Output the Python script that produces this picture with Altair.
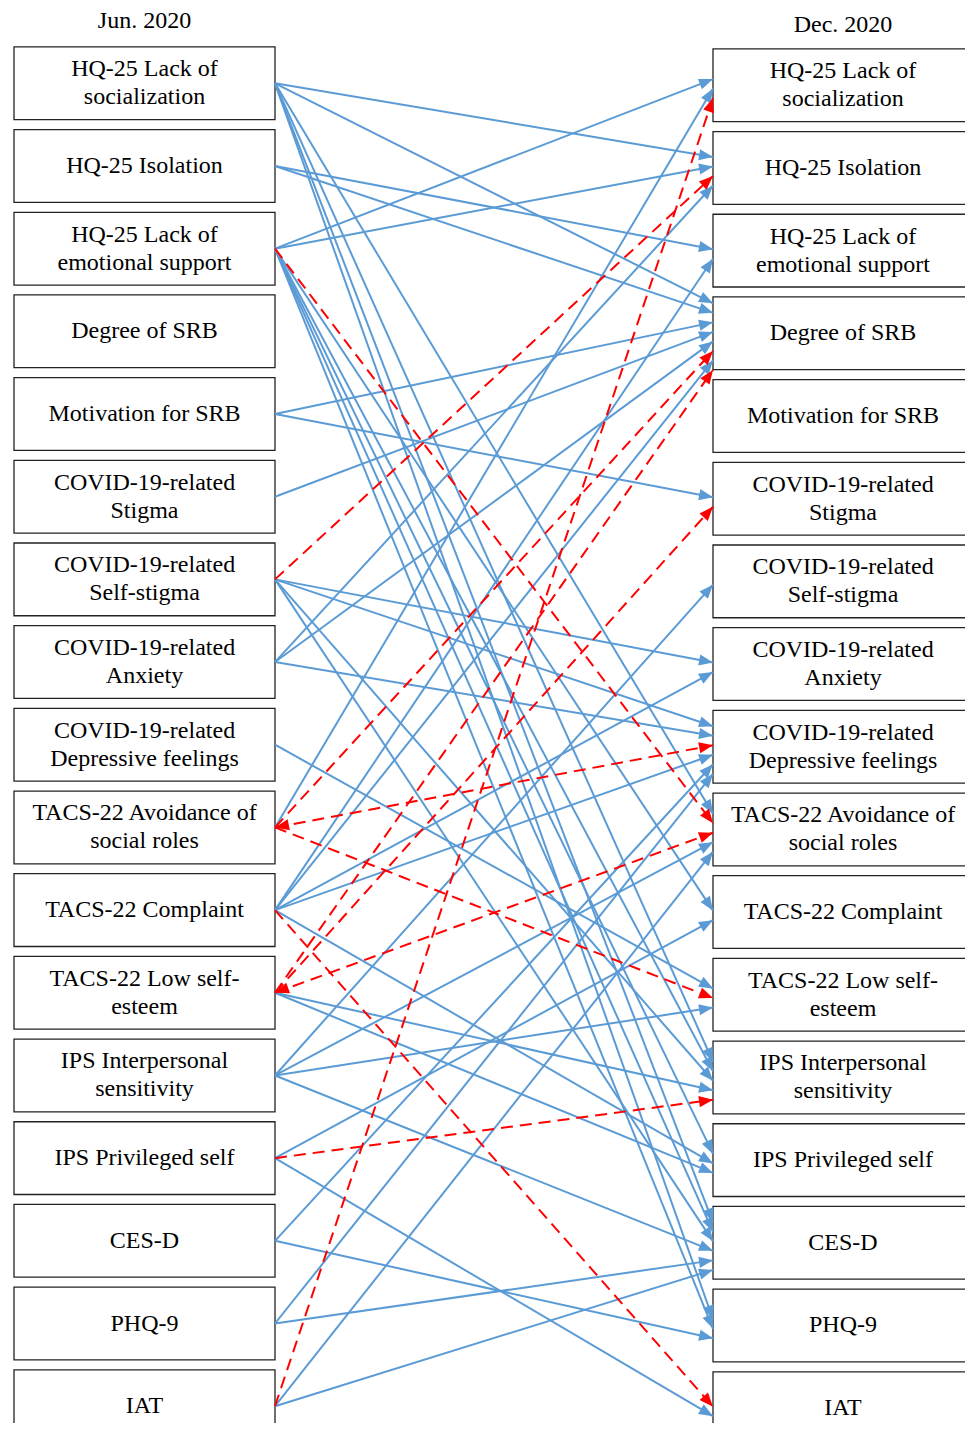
import math
import altair as alt
import pandas as pd

# ---------------- data ----------------
column_titles = ["Jun. 2020", "Dec. 2020"]

variables = [
    "HQ-25 Lack of\nsocialization",
    "HQ-25 Isolation",
    "HQ-25 Lack of\nemotional support",
    "Degree of SRB",
    "Motivation for SRB",
    "COVID-19-related\nStigma",
    "COVID-19-related\nSelf-stigma",
    "COVID-19-related\nAnxiety",
    "COVID-19-related\nDepressive feelings",
    "TACS-22 Avoidance of\nsocial roles",
    "TACS-22 Complaint",
    "TACS-22 Low self-\nesteem",
    "IPS Interpersonal\nsensitivity",
    "IPS Privileged self",
    "CES-D",
    "PHQ-9",
    "IAT",
]

# positive paths (Jun. 2020 index -> Dec. 2020 index)
blue_from = [0, 0, 0, 0, 0, 0,
             1, 1,
             2, 2, 2, 2, 2, 2, 2,
             4, 4,
             5,
             6, 6, 6, 6,
             7, 7, 7,
             8,
             9,
             10, 10, 10, 10, 10,
             11, 11,
             12, 12, 12, 12,
             13, 13,
             14, 14,
             15, 15,
             16, 16]
blue_to = [1, 3, 9, 12, 14, 15,
           2, 3,
           0, 1, 10, 12, 13, 14, 15,
           3, 5,
           3,
           7, 8, 12, 14,
           1, 3, 8,
           11,
           0,
           2, 3, 7, 8, 13,
           12, 13,
           6, 9, 11, 14,
           10, 16,
           8, 15,
           8, 14,
           9, 14]

# negative paths
red_from = [2, 6, 9, 9, 9, 10, 11, 11, 11, 13, 16]
red_to = [9, 1, 3, 8, 11, 16, 3, 5, 9, 12, 0]
# negative paths drawn with a head at both ends
red_two_headed = [(9, 8), (11, 9)]

# ---------------- layout ----------------
W, H = 957, 1415
ROW0, ROW = 75.3, 82.68      # px: first row centre, row pitch
X_LEFT, GAP = 267, 438       # px: left boxes' right edge, gap to right boxes
HALF = 0.44                  # half box height (rows)
RIGHT_SHIFT = 0.024          # right column sits slightly lower
SPREAD = 0.115               # spacing of arrow heads on one box (rows)
LEFT_BOX = (6 - X_LEFT) / GAP
RIGHT_BOX = 1.62
LEFT_TEXT = (136.5 - X_LEFT) / GAP
RIGHT_TEXT = (835 - X_LEFT) / GAP
LINE_H = 28

xs = alt.Scale(domain=[-X_LEFT / GAP, (W - X_LEFT) / GAP], nice=False, zero=False)
ys = alt.Scale(domain=[-ROW0 / ROW, (H - ROW0) / ROW], nice=False, zero=False, reverse=True)

BLUE = "#5B9BD5"
RED = "#FF0000"
FONT = "Liberation Serif"
ARROW = "M 0 0 L -2 -0.8 L -2 0.8 Z"

# boxes + labels
box_rows, label_rows = [], []
for side in (0, 1):
    for i, name in enumerate(variables):
        off = RIGHT_SHIFT if side else 0.0
        box_rows.append({
            "x": LEFT_BOX if side == 0 else 1.0,
            "x2": 0.0 if side == 0 else RIGHT_BOX,
            "y": i - HALF + off, "y2": i + HALF + off,
        })
        label_rows.append({"x": LEFT_TEXT if side == 0 else RIGHT_TEXT,
                           "y": i + off, "label": name,
                           "n": name.count("\n") + 1})
boxes = pd.DataFrame(box_rows)
labels = pd.DataFrame(label_rows)

titles = pd.DataFrame({
    "x": [LEFT_TEXT, RIGHT_TEXT],
    "y": [(13 - ROW0) / ROW, (17 - ROW0) / ROW],
    "t": column_titles,
})

# edges
edges = [(s, t, "blue") for s, t in zip(blue_from, blue_to)] + \
        [(s, t, "red") for s, t in zip(red_from, red_to)]

# arrival point on each target box: spread by source order
incoming = {}
for k, (s, t, c) in enumerate(edges):
    incoming.setdefault(t, []).append((s, k))
arrive = {}
for t, lst in incoming.items():
    lst.sort()
    n = len(lst)
    for j, (s, k) in enumerate(lst):
        arrive[k] = t + RIGHT_SHIFT + 0.04 + (j - (n - 1) / 2) * SPREAD

line_rows, head_rows = [], []
for k, (s, t, c) in enumerate(edges):
    y0, y1 = float(s), arrive[k]
    line_rows.append({"e": k, "x": 0.0, "y": y0, "c": c})
    line_rows.append({"e": k, "x": 1.0, "y": y1, "c": c})
    ang = math.degrees(math.atan2((y1 - y0) * ROW, GAP)) % 360
    col = BLUE if c == "blue" else RED
    head_rows.append({"x": 1.0, "y": y1, "a": ang, "col": col})
    if c == "red" and (s, t) in red_two_headed:
        head_rows.append({"x": 0.0, "y": y0, "a": (ang + 180) % 360, "col": col})
lines = pd.DataFrame(line_rows)
heads = pd.DataFrame(head_rows)

# ---------------- chart ----------------
X = alt.X("x:Q", scale=xs, axis=None)
Y = alt.Y("y:Q", scale=ys, axis=None)

box_layer = alt.Chart(boxes).mark_rect(
    fill="white", stroke="#222222", strokeWidth=1.3, clip=True
).encode(x=X, x2="x2:Q", y=Y, y2="y2:Q")

blue_lines = alt.Chart(lines).transform_filter(alt.datum.c == "blue").mark_line(
    color=BLUE, strokeWidth=2
).encode(x=X, y=Y, detail="e:N")

red_lines = alt.Chart(lines).transform_filter(alt.datum.c == "red").mark_line(
    color=RED, strokeWidth=2, strokeDash=[12, 7]
).encode(x=X, y=Y, detail="e:N")

head_layer = alt.Chart(heads).mark_point(
    shape=ARROW, filled=True, size=196, opacity=1, strokeWidth=0
).encode(
    x=X, y=Y,
    angle=alt.Angle("a:Q", scale=None),
    color=alt.Color("col:N", scale=None),
)

label_one = alt.Chart(labels).transform_filter(alt.datum.n == 1).mark_text(
    font=FONT, fontSize=24, lineBreak="\n", lineHeight=LINE_H,
    baseline="middle", align="center", color="black"
).encode(x=X, y=Y, text="label:N")

label_two = alt.Chart(labels).transform_filter(alt.datum.n == 2).mark_text(
    font=FONT, fontSize=24, lineBreak="\n", lineHeight=LINE_H, dy=-LINE_H / 2,
    baseline="middle", align="center", color="black"
).encode(x=X, y=Y, text="label:N")

title_layer = alt.Chart(titles).mark_text(
    font=FONT, fontSize=24, baseline="middle", align="center", color="black"
).encode(x=X, y=Y, text="t:N")

chart = alt.layer(
    box_layer, blue_lines, red_lines, head_layer, label_one, label_two, title_layer
).properties(
    width=W, height=H, padding=0, autosize=alt.AutoSizeParams(type="none")
).configure_view(stroke=None)

chart.save("out.html", embed_options={"renderer": "svg", "actions": False})
